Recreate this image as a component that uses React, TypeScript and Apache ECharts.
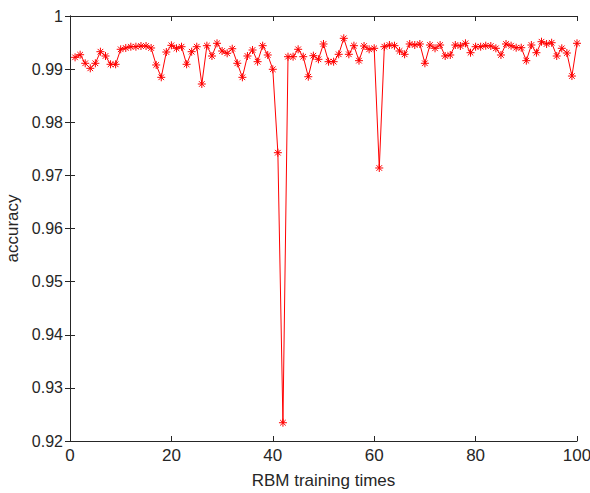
import React, { useEffect, useRef } from "react";
import * as echarts from "echarts";

const xValues: number[] = Array.from({ length: 100 }, (_, i) => i + 1);
const accuracy: number[] = [
  0.99222, 0.99271, 0.9911, 0.99015, 0.9911, 0.99328, 0.99247, 0.99091, 0.99091, 0.99373,
  0.99398, 0.99422, 0.99422, 0.99435, 0.99435, 0.99398, 0.99078, 0.98846, 0.99322, 0.99448,
  0.99392, 0.99422, 0.99091, 0.99328, 0.99422, 0.9872, 0.99441, 0.99247, 0.99486, 0.99341,
  0.99298, 0.99384, 0.9911, 0.98846, 0.99247, 0.9936, 0.9914, 0.99441, 0.99266, 0.98997,
  0.97427, 0.92344, 0.99234, 0.99234, 0.99373, 0.99234, 0.98857, 0.99253, 0.99185, 0.99473,
  0.9914, 0.9914, 0.99279, 0.9958, 0.99279, 0.99441, 0.99159, 0.99435, 0.99373, 0.99392,
  0.97139, 0.99422, 0.99454, 0.99441, 0.99341, 0.99279, 0.99473, 0.99454, 0.99473, 0.9911,
  0.99454, 0.99392, 0.99454, 0.99247, 0.99266, 0.99454, 0.99435, 0.99486, 0.99309, 0.99422,
  0.99422, 0.99441, 0.99435, 0.99392, 0.99266, 0.99473, 0.99441, 0.99403, 0.99403, 0.99159,
  0.99454, 0.99309, 0.99516, 0.99473, 0.99497, 0.99247, 0.99392, 0.99303, 0.9887, 0.99486,
];
const xTicks: number[] = [0, 20, 40, 60, 80, 100];
const yTickLabels: string[] = ["0.92", "0.93", "0.94", "0.95", "0.96", "0.97", "0.98", "0.99", "1"];

const FONT = "Arial, 'Liberation Sans', sans-serif";
const TXT = "#262626";
const ASTERISK = "path://M0,-10L0,10M-10,0L10,0M-7,-7L7,7M-7,7L7,-7";

export default function App() {
  const ref = useRef<HTMLDivElement>(null);
  useEffect(() => {
    if (!ref.current) return;
    const chart = echarts.init(ref.current, null, { renderer: "svg" });
    const data = xValues.map((x, i) => [x, accuracy[i]]);
    const axisLine = { show: true, lineStyle: { color: TXT, width: 1 } };
    const axisTick = { show: true, inside: true, length: 5, lineStyle: { color: TXT, width: 1 } };
    const yMin = parseFloat(yTickLabels[0]);
    const yMax = parseFloat(yTickLabels[yTickLabels.length - 1]);
    chart.setOption({
      animation: false,
      backgroundColor: "#ffffff",
      grid: {
        left: 70,
        right: 13,
        top: 16,
        bottom: 52,
        containLabel: false,
        outerBoundsMode: "none",
      },
      xAxis: [
        {
          type: "value",
          min: xTicks[0],
          max: xTicks[xTicks.length - 1],
          interval: 20,
          name: "RBM training times",
          nameLocation: "middle",
          nameGap: 31,
          nameTextStyle: { color: TXT, fontFamily: FONT, fontSize: 17 },
          axisLine,
          axisTick,
          splitLine: { show: false },
          axisLabel: { color: TXT, fontFamily: FONT, fontSize: 17, margin: 6 },
        },
        {
          type: "value",
          position: "top",
          min: xTicks[0],
          max: xTicks[xTicks.length - 1],
          interval: 20,
          axisLine,
          axisTick,
          splitLine: { show: false },
          axisLabel: { show: false },
        },
      ],
      yAxis: [
        {
          type: "value",
          min: yMin,
          max: yMax,
          interval: 0.01,
          name: "accuracy",
          nameLocation: "middle",
          nameGap: 46,
          nameTextStyle: { color: TXT, fontFamily: FONT, fontSize: 17 },
          axisLine,
          axisTick,
          splitLine: { show: false },
          axisLabel: {
            color: TXT,
            fontFamily: FONT,
            fontSize: 16,
            margin: 7,
            formatter: (v: number) => parseFloat(v.toFixed(2)).toString(),
          },
        },
        {
          type: "value",
          position: "right",
          min: yMin,
          max: yMax,
          interval: 0.01,
          axisLine,
          axisTick,
          splitLine: { show: false },
          axisLabel: { show: false },
        },
      ],
      series: [
        {
          type: "line",
          data,
          xAxisIndex: 0,
          yAxisIndex: 0,
          symbol: ASTERISK,
          symbolSize: 8,
          showAllSymbol: true,
          lineStyle: { color: "#ff0000", width: 1 },
          itemStyle: { color: "#ff0000", borderColor: "#ff0000", borderWidth: 1 },
          emphasis: { disabled: true },
        },
      ],
    });
    return () => chart.dispose();
  }, []);
  return (
    <div
      ref={ref}
      style={{ position: "absolute", left: 0, top: 0, width: 590, height: 493, background: "#fff" }}
    />
  );
}
